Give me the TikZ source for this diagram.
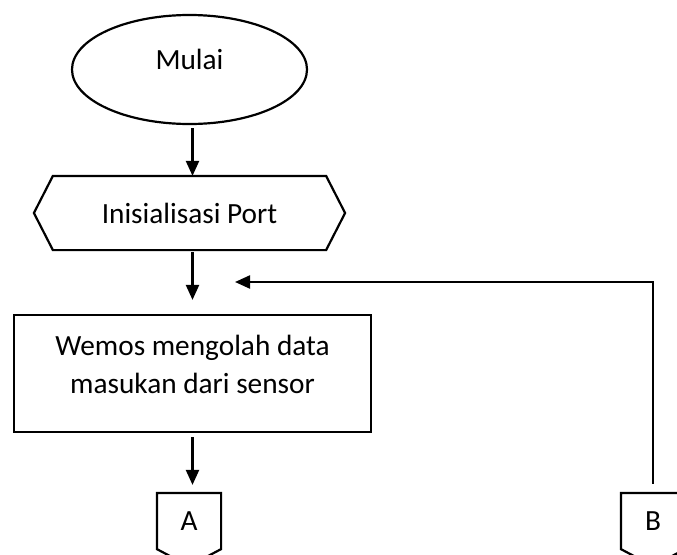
\documentclass[tikz,border=0pt]{standalone}
\usepackage{fontspec}
\setmainfont{Carlito}
\usetikzlibrary{shapes.geometric,arrows.meta,calc}
\begin{document}
\begin{tikzpicture}[x=1pt,y=-1pt,
  line width=2.2pt,
  txt/.style={font=\fontsize{29.3}{38}\selectfont, inner sep=0pt, align=center},
  terminal/.style={draw, ellipse, minimum width=235pt, minimum height=109pt, inner sep=0pt},
  process/.style={draw, rectangle, minimum width=357pt, minimum height=117pt, inner sep=0pt},
  inputbox/.style={rectangle, minimum width=309pt, minimum height=72pt, inner sep=0pt, txt},
  offpage/.style={rectangle, minimum width=62pt, minimum height=54pt, inner sep=0pt, txt},
  flow/.style={-{Triangle[length=15pt,width=13pt]}, line width=2.2pt},
]
\useasboundingbox (0,0) rectangle (677,554);
\clip (0,0) rectangle (677,554);

% start terminal
\node[terminal] (start) at (189.5,69.5) {};
\node[txt] (starttext) at (189.5,59) {Mulai};

% port initialisation (hexagon)
\node[inputbox] (init) at (189.5,213) {Inisialisasi Port};
\draw ([xshift=19pt]init.north west) -- ([xshift=-19pt]init.north east)
  -- (init.east) -- ([xshift=-19pt]init.south east)
  -- ([xshift=19pt]init.south west) -- (init.west) -- cycle;

% processing step
\node[process] (proc) at (192.5,373.5) {};
\node[txt] (proctext) at (192.5,364.5) {Wemos mengolah data\\masukan dari sensor};

% off-page connectors
\node[offpage] (A) at (189,521) {A};
\draw (A.south west) -- (A.north west) -- (A.north east) -- (A.south east)
  -- ([yshift=-17pt]A.south) -- cycle;
\node[offpage] (B) at (653,521) {B};
\draw (B.south west) -- (B.north west) -- (B.north east) -- (B.south east)
  -- ([yshift=-17pt]B.south) -- cycle;

% flow lines
\coordinate (join) at (235,282);
\draw[flow, shorten <=3pt] (start.south -| proc.north) -- (init.north -| proc.north);
\draw[flow, shorten <=2pt, shorten >=14pt] (init.south -| proc.north) -- (proc.north);
\draw[flow, shorten <=4pt, shorten >=8pt] (proc.south) -- (A.north -| proc.south);
\draw[flow, shorten <=9pt] (B.north) |- (join);
\end{tikzpicture}
\end{document}
